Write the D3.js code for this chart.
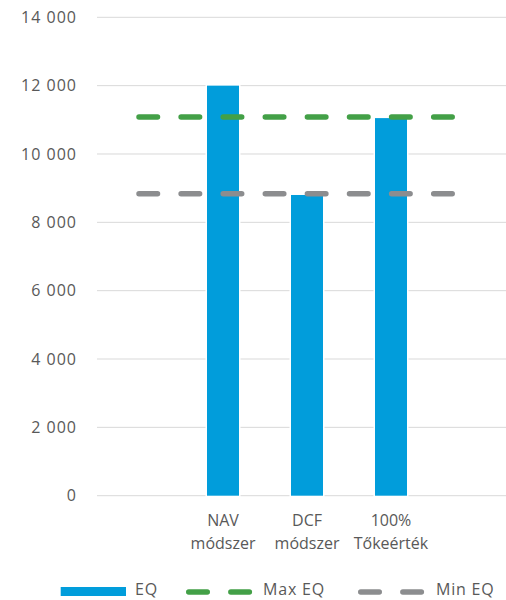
<!DOCTYPE html>
<html>
<head>
<meta charset="utf-8">
<script src="https://cdn.jsdelivr.net/npm/d3@7"></script>
<style>
  body { margin: 0; background: #fff; }
  svg { display: block; font-family: "Open Sans", sans-serif; }
  .tick-label { fill: #595959; font-size: 16px; letter-spacing: 1px; }
  .cat-label { fill: #595959; font-size: 16px; }
  .legend-label { fill: #595959; font-size: 16px; letter-spacing: 0.8px; }
</style>
</head>
<body>
<svg id="chart" width="506" height="600"></svg>
<script>
const categories = ["", "NAV\nmódszer", "DCF\nmódszer", "100%\nTőkeérték", " "];
const eqValues = [null, 12000, 8800, 11050, null];
const maxEqValues = [11080, 11080, 11080, 11080, 11080];
const minEqValues = [8835, 8835, 8835, 8835, 8835];
const yTicks = [0, 2000, 4000, 6000, 8000, 10000, 12000, 14000];

const COLORS = { EQ: "#019ddb", MAX: "#43a047", MIN: "#8c8d8f", GRID: "#d9d9d9" };
const DASH = "18.5 23.6";

const svg = d3.select("#chart");

const x = d3.scaleBand().domain(d3.range(categories.length)).range([97, 517]);
const y = d3.scaleLinear().domain([0, 14000]).range([495.7, 17.3]);
const barWidth = 32;

const fmt = (v) => d3.format(",")(v).replace(/,/g, " ");

// gridlines
svg.append("g")
  .selectAll("line")
  .data(yTicks)
  .join("line")
  .attr("x1", 97)
  .attr("x2", 506)
  .attr("y1", (d) => y(d))
  .attr("y2", (d) => y(d))
  .attr("stroke", COLORS.GRID)
  .attr("stroke-width", 1);

// y tick labels
svg.append("g")
  .selectAll("text")
  .data(yTicks)
  .join("text")
  .attr("class", "tick-label")
  .attr("x", 77)
  .attr("y", (d) => y(d))
  .attr("dy", "0.36em")
  .attr("text-anchor", "end")
  .text(fmt);

// bars
svg.append("g")
  .selectAll("rect")
  .data(eqValues.map((v, i) => ({ v, i })).filter((d) => d.v != null))
  .join("rect")
  .attr("x", (d) => x(d.i) + x.bandwidth() / 2 - barWidth / 2)
  .attr("width", barWidth)
  .attr("y", (d) => y(d.v))
  .attr("height", (d) => y(0) - y(d.v))
  .attr("fill", COLORS.EQ)
  .attr("stroke", "#fff")
  .attr("stroke-width", 3)
  .attr("paint-order", "stroke");

// dashed lines
const line = d3.line()
  .x((d, i) => x(i) + x.bandwidth() / 2)
  .y((d) => y(d));

[[maxEqValues, COLORS.MAX], [minEqValues, COLORS.MIN]].forEach(([vals, color]) => {
  svg.append("path")
    .datum(vals)
    .attr("d", line)
    .attr("fill", "none")
    .attr("stroke", color)
    .attr("stroke-width", 5.5)
    .attr("stroke-linecap", "round")
    .attr("stroke-dasharray", DASH);
});

// category labels
const catG = svg.append("g")
  .selectAll("text")
  .data(categories)
  .join("text")
  .attr("class", "cat-label")
  .attr("text-anchor", "middle")
  .attr("x", (d, i) => x(i) + x.bandwidth() / 2)
  .attr("y", 526);

catG.selectAll("tspan")
  .data((d) => d.trim() ? d.split("\n") : [])
  .join("tspan")
  .attr("x", function () { return d3.select(this.parentNode).attr("x"); })
  .attr("dy", (d, i) => (i === 0 ? 0 : 23))
  .text((d) => d);

// legend
const legend = svg.append("g");
legend.append("rect")
  .attr("x", 60.7).attr("y", 587)
  .attr("width", 65.3).attr("height", 9)
  .attr("fill", COLORS.EQ);
legend.append("text").attr("class", "legend-label")
  .attr("x", 135).attr("y", 595).text("EQ");

legend.append("line")
  .attr("x1", 188.75).attr("x2", 249.5).attr("y1", 592).attr("y2", 592)
  .attr("stroke", COLORS.MAX).attr("stroke-width", 5.5)
  .attr("stroke-linecap", "round").attr("stroke-dasharray", DASH);
legend.append("text").attr("class", "legend-label")
  .attr("x", 263).attr("y", 595).text("Max EQ");

legend.append("line")
  .attr("x1", 360.75).attr("x2", 421.5).attr("y1", 592).attr("y2", 592)
  .attr("stroke", COLORS.MIN).attr("stroke-width", 5.5)
  .attr("stroke-linecap", "round").attr("stroke-dasharray", DASH);
legend.append("text").attr("class", "legend-label")
  .attr("x", 436).attr("y", 595).text("Min EQ");
</script>
</body>
</html>
